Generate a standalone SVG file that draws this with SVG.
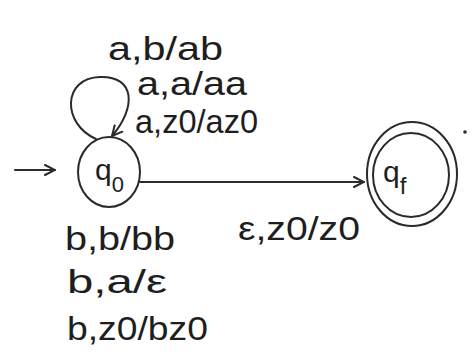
<svg xmlns="http://www.w3.org/2000/svg" width="472" height="356" viewBox="0 0 472 356">
<style>
.s{fill:none;stroke:#2a2a2a;stroke-width:2;stroke-linecap:round}
.t{font-family:"Liberation Sans","DejaVu Sans",sans-serif;fill:#1e1e1e;font-size:34px}
.n{font-family:"Liberation Sans","DejaVu Sans",sans-serif;fill:#1e1e1e}
</style>
<defs>
<marker id="ah" viewBox="0 0 12 12" refX="11" refY="6" markerWidth="12" markerHeight="12" markerUnits="userSpaceOnUse" orient="auto">
<path d="M1 1 L11 6 L1 11" fill="none" stroke="#2a2a2a" stroke-width="2" stroke-linecap="round"/>
</marker>
</defs>
<rect width="472" height="356" fill="#ffffff"/>
<g id="connectors">
<line class="s" x1="15" y1="170" x2="55" y2="170" marker-end="url(#ah)"/>
<path class="s" d="M96 139 C62 124, 62 78, 100 77 C136 76, 136 108, 112 136" marker-end="url(#ah)"/>
<line class="s" x1="140" y1="182" x2="364" y2="182" marker-end="url(#ah)"/>
</g>
<g id="q0">
<ellipse class="s" cx="109" cy="172" rx="31" ry="35"/>
<text class="n" x="95" y="180" font-size="30">q<tspan font-size="22" dy="12">0</tspan></text>
</g>
<g id="qf">
<ellipse class="s" cx="412" cy="174" rx="45" ry="52"/>
<ellipse class="s" cx="411" cy="175" rx="38" ry="42"/>
<text class="n" x="383" y="182" font-size="30">q<tspan font-size="24" dy="12">f</tspan></text>
<circle cx="465" cy="132" r="1.8" fill="#2a2a2a"/>
</g>
<g id="labels">
<text class="t" x="108" y="60" textLength="115" lengthAdjust="spacingAndGlyphs">a,b/ab</text>
<text class="t" x="137" y="95" textLength="110" lengthAdjust="spacingAndGlyphs">a,a/aa</text>
<text class="t" x="135" y="133" textLength="123" lengthAdjust="spacingAndGlyphs">a,z0/az0</text>
<text class="t" x="238" y="240" textLength="122" lengthAdjust="spacingAndGlyphs">ε,z0/z0</text>
<text class="t" x="65" y="250" textLength="110" lengthAdjust="spacingAndGlyphs">b,b/bb</text>
<text class="t" x="67" y="293" textLength="100" lengthAdjust="spacingAndGlyphs">b,a/ε</text>
<text class="t" x="67" y="340" textLength="141" lengthAdjust="spacingAndGlyphs">b,z0/bz0</text>
</g>
</svg>
